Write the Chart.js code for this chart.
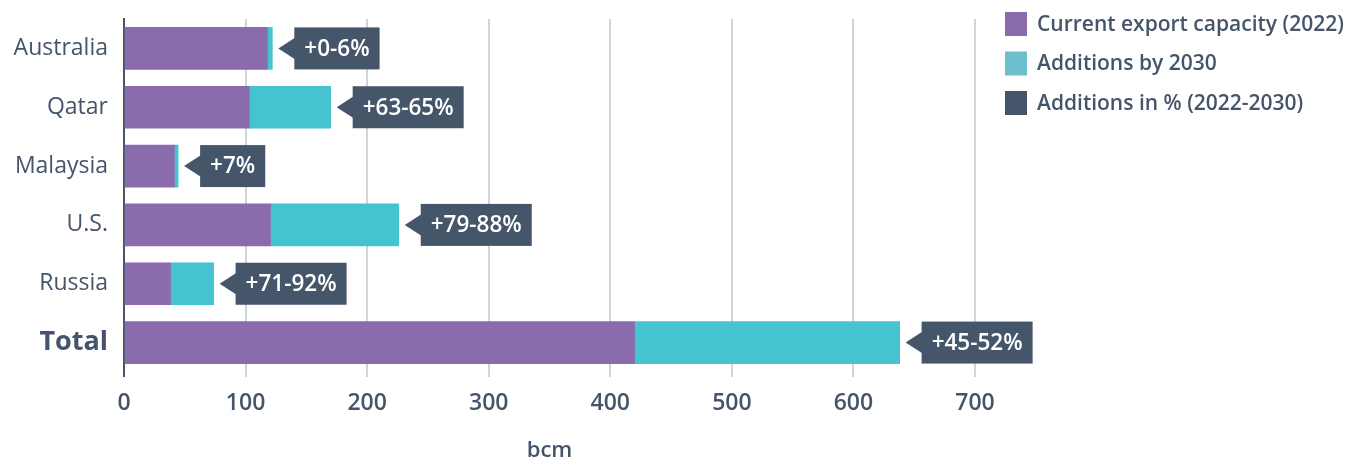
<!DOCTYPE html>
<html>
<head>
<meta charset="utf-8">
<title>LNG export capacity</title>
<script src="https://cdn.jsdelivr.net/npm/chart.js@4.4.1/dist/chart.umd.min.js"></script>
<style>
  html, body { margin: 0; padding: 0; background: #fff; }
  #wrap { width: 1348px; height: 462px; position: relative; }
</style>
</head>
<body>
<div id="wrap"><canvas id="lngChart"></canvas></div>
<script>
// LNG export capacity in bcm, 2022 and planned additions to 2030
const countries = ['Australia', 'Qatar', 'Malaysia', 'U.S.', 'Russia', 'Total'];
const currentCapacity = [118, 103, 41.5, 120.5, 38.3, 420];
const additions2030 = [4, 67, 3, 105.5, 35.4, 218];
const additionLabels = ['+0-6%', '+63-65%', '+7%', '+79-88%', '+71-92%', '+45-52%'];
const legendLabels = ['Current export capacity (2022)', 'Additions by 2030', 'Additions in % (2022-2030)'];

const PURPLE = '#8a6bac';
const CYAN = '#45c3ce';
const CYAN_KEY = '#6cc0cc';
const DARK = '#46566a';
const TEXT = '#44556a';
const GRID = '#cfd3da';
const FONT = '"Open Sans", "Liberation Sans", sans-serif';

// dark tag with a left arrow at the end of every bar
const calloutPlugin = {
    id: 'callouts',
    afterDatasetsDraw(chart) {
        const ctx = chart.ctx;
        const bars = chart.getDatasetMeta(1).data;
        ctx.save();
        ctx.font = '600 22.5px ' + FONT;
        bars.forEach((bar, i) => {
            const { x, y, height } = bar.getProps(['x', 'y', 'height'], true);
            const text = additionLabels[i];
            const tip = x + 6;
            const left = tip + 16;
            const w = ctx.measureText(text).width + 20;
            ctx.fillStyle = DARK;
            ctx.beginPath();
            ctx.moveTo(tip, y);
            ctx.lineTo(left + 1, y - 11);
            ctx.lineTo(left + 1, y + 11);
            ctx.closePath();
            ctx.fill();
            ctx.fillRect(left, y - height / 2, w, height);
            ctx.fillStyle = '#ffffff';
            ctx.textAlign = 'center';
            ctx.textBaseline = 'middle';
            ctx.fillText(text, left + w / 2, y + 1);
        });
        ctx.restore();
    }
};

// legend in the top right corner, including the key for the tags
const legendPlugin = {
    id: 'cornerLegend',
    afterDraw(chart) {
        const ctx = chart.ctx;
        const colors = [PURPLE, CYAN_KEY, DARK];
        ctx.save();
        ctx.font = '600 21px ' + FONT;
        ctx.textAlign = 'left';
        ctx.textBaseline = 'middle';
        legendLabels.forEach((label, i) => {
            const cy = 24 + i * 39.5;
            ctx.fillStyle = colors[i];
            ctx.fillRect(1005, cy - 12, 22, 24);
            ctx.fillStyle = TEXT;
            ctx.fillText(label, 1037, cy + 1);
        });
        ctx.restore();
    }
};

new Chart(document.getElementById('lngChart'), {
    type: 'bar',
    data: {
        labels: countries,
        datasets: [{
            label: legendLabels[0],
            data: currentCapacity,
            backgroundColor: PURPLE,
            barThickness: 42
        }, {
            label: legendLabels[1],
            data: additions2030,
            backgroundColor: CYAN,
            barThickness: 42
        }]
    },
    options: {
        indexAxis: 'y',
        responsive: true,
        maintainAspectRatio: false,
        animation: false,
        layout: { padding: { top: 19, right: 373, left: 0, bottom: 0 } },
        plugins: {
            legend: { display: false },
            tooltip: { enabled: false }
        },
        scales: {
            x: {
                stacked: true,
                min: 0,
                max: 700,
                afterFit: scale => { scale.height = 90; },
                border: { display: false },
                grid: {
                    color: c => (c.tick && c.tick.value === 0) ? DARK : GRID,
                    lineWidth: 2,
                    drawTicks: true,
                    tickLength: 5
                },
                ticks: {
                    stepSize: 100,
                    padding: 13,
                    color: TEXT,
                    font: { family: FONT, size: 23, weight: '600' }
                },
                title: {
                    display: true,
                    text: 'bcm',
                    color: TEXT,
                    padding: { top: 0, bottom: 0 },
                    font: { family: FONT, size: 22, weight: '600', lineHeight: 1 }
                }
            },
            y: {
                stacked: true,
                afterFit: scale => {
                    scale.width = 124;
                    scale.paddingTop = 0;
                    scale.paddingBottom = 0;
                },
                border: { display: true, color: DARK, width: 2 },
                grid: { display: false, drawTicks: false },
                ticks: {
                    padding: 16,
                    color: TEXT,
                    font: c => c.index === 5
                        ? { family: FONT, size: 27, weight: 'bold' }
                        : { family: FONT, size: 23 }
                }
            }
        }
    },
    plugins: [calloutPlugin, legendPlugin]
});
</script>
</body>
</html>
